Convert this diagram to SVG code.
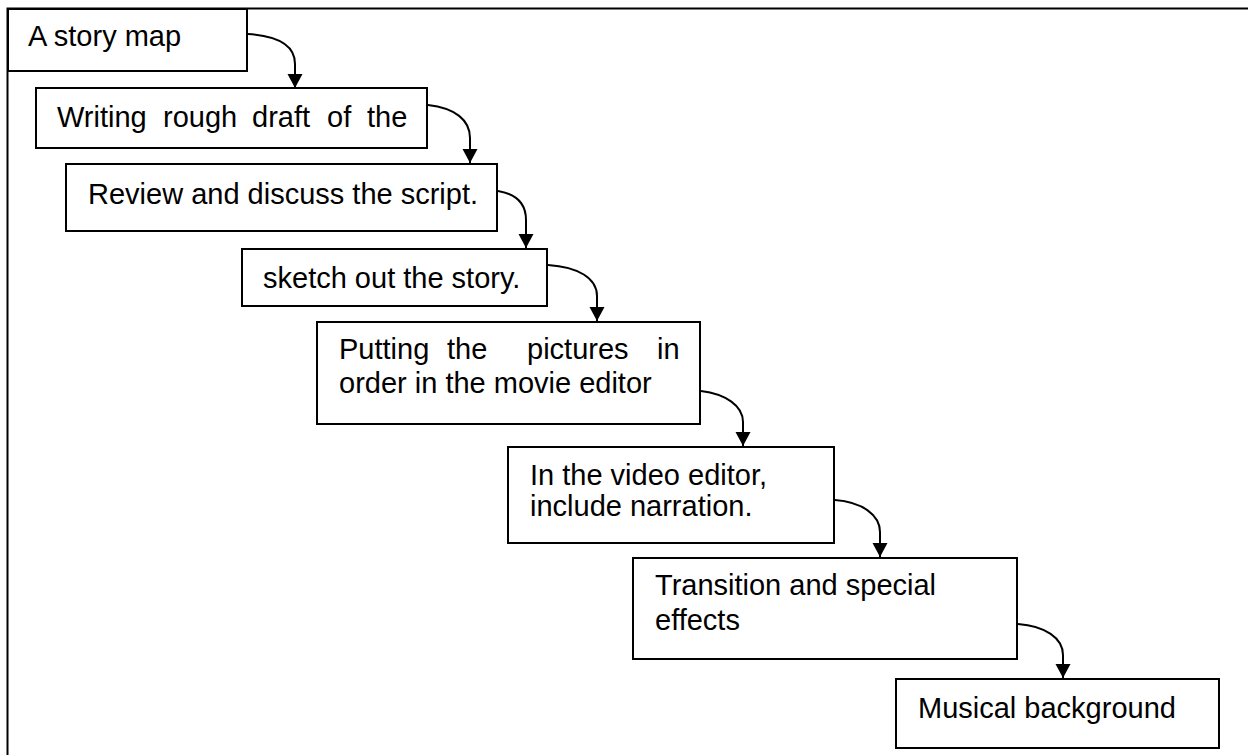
<svg xmlns="http://www.w3.org/2000/svg" width="1248" height="755" viewBox="0 0 1248 755">
  <style>
    .box { fill: #ffffff; stroke: #000000; stroke-width: 2; }
    .frame { fill: none; stroke: #000000; stroke-width: 2; }
    .label { font-family: "Liberation Sans", Arial, sans-serif; font-size: 29px; fill: #000000; }
    .conn { fill: none; stroke: #000000; stroke-width: 2; marker-end: url(#arrow); }
  </style>
  <defs>
    <marker id="arrow" markerUnits="userSpaceOnUse" markerWidth="16" markerHeight="16" refX="14" refY="7.5" orient="auto">
      <path d="M0,0 L14,7.5 L0,15 Z" fill="#000000"/>
    </marker>
  </defs>

  <rect width="1248" height="755" fill="#ffffff"/>

  <!-- page frame: top and left rules only -->
  <path class="frame" d="M7.5,755 L7.5,8.5 L1248,8.5"/>

  <g id="node-story-map">
    <rect class="box" x="8" y="9" width="239" height="62"/>
    <text class="label" x="28" y="46">A story map</text>
  </g>

  <g id="node-rough-draft">
    <rect class="box" x="36" y="88" width="391" height="60"/>
    <text class="label" y="127"><tspan x="57">Writing</tspan><tspan x="163">rough</tspan><tspan x="252">draft</tspan><tspan x="327">of</tspan><tspan x="367">the</tspan></text>
  </g>

  <g id="node-review">
    <rect class="box" x="66" y="164" width="431" height="67"/>
    <text class="label" x="88" y="204">Review and discuss the script.</text>
  </g>

  <g id="node-sketch">
    <rect class="box" x="242" y="249" width="305" height="57"/>
    <text class="label" x="263" y="288">sketch out the story.</text>
  </g>

  <g id="node-pictures">
    <rect class="box" x="317" y="322" width="383" height="102"/>
    <text class="label" y="359"><tspan x="339">Putting</tspan><tspan x="447">the</tspan><tspan x="527">pictures</tspan><tspan x="657">in</tspan></text>
    <text class="label" x="339" y="393">order in the movie editor</text>
  </g>

  <g id="node-narration">
    <rect class="box" x="508" y="447" width="326" height="96"/>
    <text class="label" x="530" y="485">In the video editor,</text>
    <text class="label" x="530" y="516">include narration.</text>
  </g>

  <g id="node-effects">
    <rect class="box" x="633" y="558" width="384" height="101"/>
    <text class="label" x="655" y="595">Transition and special</text>
    <text class="label" x="655" y="630">effects</text>
  </g>

  <g id="node-music">
    <rect class="box" x="896" y="679" width="323" height="69"/>
    <text class="label" x="918" y="718">Musical background</text>
  </g>

  <!-- curved step connectors -->
  <g id="connectors">
    <path class="conn" d="M248,34 C278,36 295,46 295,64 L295,88"/>
    <path class="conn" d="M428,105 C455,108 470,120 470,138 L470,163"/>
    <path class="conn" d="M498,191 C516,194 526,204 526,220 L526,248"/>
    <path class="conn" d="M548,265 C578,267 597,278 597,296 L597,321"/>
    <path class="conn" d="M701,391 C726,394 743,406 743,422 L743,446"/>
    <path class="conn" d="M835,500 C862,502 880,515 880,532 L880,557"/>
    <path class="conn" d="M1018,624 C1045,626 1063,638 1063,655 L1063,678"/>
  </g>
</svg>
